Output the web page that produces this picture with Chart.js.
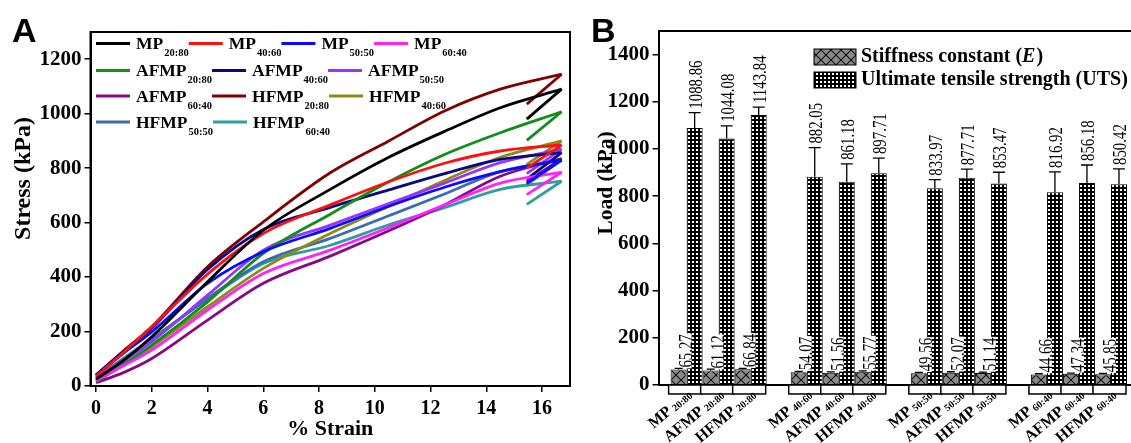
<!DOCTYPE html>
<html><head><meta charset="utf-8">
<script src="https://cdn.jsdelivr.net/npm/chart.js@4.4.1/dist/chart.umd.min.js"></script>
<style>
html,body{margin:0;padding:0;background:#fff;overflow:hidden;width:1131px;height:443px;}
#ca{position:absolute;left:0;top:0;}
#cb{position:absolute;left:571px;top:0;}
</style></head><body>
<canvas id="ca" width="571" height="443"></canvas>
<canvas id="cb" width="568" height="443"></canvas>
<script>
// ---------- Panel A data (stress-strain curves) ----------
const strainPts = [0, 1, 2, 4, 6, 8.4, 10.5, 12.5, 14.5, 16.7];
const returnStrain = 15.45;
const stress_MP_2080   = [25, 95, 181, 383, 572, 722, 840, 935, 1022, 1090];
const stress_MP_4060   = [35, 125, 218, 411, 560, 665, 750, 818, 863, 885];
const stress_MP_5050   = [40, 122, 199, 377, 493, 579, 660, 730, 787, 830];
const stress_MP_6040   = [20, 75, 132, 279, 413, 499, 582, 665, 745, 785];
const stress_AFMP_2080 = [15, 80, 150, 309, 487, 631, 750, 850, 930, 1007];
const stress_AFMP_4060 = [40, 128, 212, 428, 575, 656, 720, 780, 832, 857];
const stress_AFMP_5050 = [25, 92, 163, 334, 499, 591, 670, 745, 820, 870];
const stress_AFMP_6040 = [12, 50, 101, 242, 377, 477, 570, 665, 770, 835];
const stress_HFMP_2080 = [40, 130, 218, 438, 603, 783, 900, 1010, 1090, 1145];
const stress_HFMP_4060 = [20, 80, 144, 291, 432, 560, 660, 755, 840, 900];
const stress_HFMP_5050 = [30, 100, 169, 322, 456, 542, 625, 705, 787, 830];
const stress_HFMP_6040 = [30, 103, 175, 318, 450, 517, 592, 655, 722, 752];
const returnStress = [980, 800, 745, 703, 902, 760, 780, 750, 1035, 814, 740, 667];
const seriesNames  = ['MP','MP','MP','MP','AFMP','AFMP','AFMP','AFMP','HFMP','HFMP','HFMP','HFMP'];
const seriesRatios = ['20:80','40:60','50:50','60:40','20:80','40:60','50:50','60:40','20:80','40:60','50:50','60:40'];
const xTicksA = [0, 2, 4, 6, 8, 10, 12, 14, 16];
const yTicksA = [0, 200, 400, 600, 800, 1000, 1200];

// ---------- Panel B data (bar chart) ----------
const groups  = ['20:80', '40:60', '50:50', '60:40'];
const samples = ['MP', 'AFMP', 'HFMP'];
const E_MP     = [65.27, 54.07, 49.56, 44.66];
const E_AFMP   = [61.12, 51.56, 52.07, 47.34];
const E_HFMP   = [66.84, 55.77, 51.14, 45.85];
const UTS_MP   = [1088.86, 882.05, 833.97, 816.92];
const UTS_AFMP = [1044.08, 861.18, 877.71, 856.18];
const UTS_HFMP = [1143.84, 897.71, 853.47, 850.42];
const Eerr_MP   = [5, 4, 4, 3];
const Eerr_AFMP = [6, 4, 4, 3];
const Eerr_HFMP = [4, 4, 3, 3];
const UTSerr_MP   = [65, 124, 36, 86];
const UTSerr_AFMP = [54, 76, 37, 76];
const UTSerr_HFMP = [34, 64, 48, 65];
const yTicksB = [0, 200, 400, 600, 800, 1000, 1200, 1400];

// ---------- styles ----------
const SERIF = "'Liberation Serif','Times New Roman',serif";
const SANS = "'Liberation Sans',Arial,sans-serif";
const colorsA = ['#000000','#ff1010','#0a0aff','#ff22ff','#0f8f1a','#0a0a80','#9933ff','#850a85','#800000','#8c8c14','#3a6cb0','#2f9e9e'];
Chart.defaults.font.family = SERIF;
Chart.defaults.font.weight = 'bold';
Chart.defaults.color = '#000';

const stressA = [stress_MP_2080, stress_MP_4060, stress_MP_5050, stress_MP_6040,
  stress_AFMP_2080, stress_AFMP_4060, stress_AFMP_5050, stress_AFMP_6040,
  stress_HFMP_2080, stress_HFMP_4060, stress_HFMP_5050, stress_HFMP_6040];

const dsA = [];
stressA.forEach((vals, i) => {
  dsA.push({
    data: strainPts.map((s, k) => ({x: s, y: vals[k]})),
    borderColor: colorsA[i], borderWidth: 2.8, pointRadius: 0, showLine: true,
    cubicInterpolationMode: 'monotone', fill: false
  });
  const last = strainPts.length - 1;
  dsA.push({
    data: [{x: strainPts[last], y: vals[last]}, {x: returnStrain, y: returnStress[i]}],
    borderColor: colorsA[i], borderWidth: 2.8, pointRadius: 0, showLine: true,
    tension: 0, fill: false
  });
});

const pluginA = {
  id: 'decorA',
  afterDraw(chart) {
    const ctx = chart.ctx, a = chart.chartArea;
    ctx.save();
    ctx.strokeStyle = '#000'; ctx.lineWidth = 2;
    ctx.strokeRect(a.left, a.top, a.right - a.left, a.bottom - a.top);
    ctx.fillStyle = '#000';
    ctx.font = 'bold 34px ' + SANS; ctx.textAlign = 'left'; ctx.textBaseline = 'alphabetic';
    ctx.fillText('A', 12, 42);
    ctx.save();
    ctx.translate(24, 178.5); ctx.rotate(-Math.PI / 2);
    ctx.font = 'bold 24px ' + SERIF; ctx.textAlign = 'center'; ctx.textBaseline = 'middle';
    ctx.fillText('Stress (kPa)', 0, 0);
    ctx.restore();
    const rows = [[0,1,2,3],[4,5,6],[7,8,9],[10,11]];
    const rowY = [43.5, 70.5, 96, 122];
    rows.forEach((r, ri) => {
      let x = 96; const y = rowY[ri];
      r.forEach(i => {
        ctx.strokeStyle = colorsA[i]; ctx.lineWidth = 2.8;
        ctx.beginPath(); ctx.moveTo(x, y); ctx.lineTo(x + 34, y); ctx.stroke();
        ctx.fillStyle = '#000'; ctx.textBaseline = 'middle'; ctx.textAlign = 'left';
        ctx.font = 'bold 17.5px ' + SERIF;
        ctx.fillText(seriesNames[i], x + 40, y + 1);
        const w = ctx.measureText(seriesNames[i]).width;
        ctx.font = 'bold 10.5px ' + SERIF;
        ctx.fillText(seriesRatios[i], x + 41 + w, y + 10);
        const sw = ctx.measureText(seriesRatios[i]).width;
        x = x + 41 + w + sw;
      });
    });
    ctx.restore();
  }
};

new Chart(document.getElementById('ca'), {
  type: 'scatter',
  data: {datasets: dsA},
  options: {
    responsive: false, animation: false, devicePixelRatio: 1,
    layout: {padding: {left: 0, right: 1, top: 32, bottom: 0}},
    plugins: {legend: {display: false}, tooltip: {enabled: false}},
    scales: {
      x: {
        type: 'linear', min: -0.2, max: 17,
        afterBuildTicks: s => { s.ticks = xTicksA.map(v => ({value: v})); },
        afterFit: s => { s.height = 57; },
        grid: {display: true, drawOnChartArea: false, drawTicks: true, tickLength: 6, color: '#000', lineWidth: 1.5},
        border: {display: true, color: '#000', width: 2},
        ticks: {color: '#000', font: {size: 20, weight: 'bold'}, padding: 5, maxRotation: 0, autoSkip: false, callback: v => String(v)},
        title: {display: true, text: '% Strain', color: '#000', font: {size: 22, weight: 'bold'}, padding: {top: 0, bottom: 0}}
      },
      y: {
        type: 'linear', min: 0, max: 1300,
        afterBuildTicks: s => { s.ticks = yTicksA.map(v => ({value: v})); },
        afterFit: s => { s.width = 90.5; },
        grid: {display: true, drawOnChartArea: false, drawTicks: true, tickLength: 6, color: '#000', lineWidth: 1.5},
        border: {display: true, color: '#000', width: 2},
        ticks: {color: '#000', font: {size: 21, weight: 'bold'}, padding: 3, autoSkip: false, callback: v => String(v)}
      }
    }
  },
  plugins: [pluginA]
});

// ---------- Panel B ----------
function makePattern(kind) {
  const c = document.createElement('canvas');
  const g = c.getContext('2d');
  if (kind === 'grid') {
    c.width = 4; c.height = 4;
    g.fillStyle = '#000'; g.fillRect(0, 0, 4, 4);
    g.fillStyle = '#fff'; g.fillRect(1, 1, 2, 2);
  } else {
    c.width = 10; c.height = 10;
    g.fillStyle = '#8a8a8a'; g.fillRect(0, 0, 10, 10);
    g.strokeStyle = '#111'; g.lineWidth = 1.1;
    g.beginPath(); g.moveTo(0, 0); g.lineTo(10, 10); g.moveTo(10, 0); g.lineTo(0, 10); g.stroke();
  }
  return g.createPattern(c, 'repeat');
}
const patE = makePattern('cross');
const patU = makePattern('grid');
const boxDepth = -38;   // white label boxes below the axis, in kPa units

const Evals = [E_MP, E_AFMP, E_HFMP];
const Uvals = [UTS_MP, UTS_AFMP, UTS_HFMP];
const Eerrs = [Eerr_MP, Eerr_AFMP, Eerr_HFMP];
const Uerrs = [UTSerr_MP, UTSerr_AFMP, UTSerr_HFMP];

const dsB = [];
samples.forEach((s, j) => {
  dsB.push({label: s + ' E', data: Evals[j], backgroundColor: patE, borderColor: '#000', borderWidth: 1,
    barPercentage: 1, categoryPercentage: 0.8, kind: 'E', err: Eerrs[j]});
  dsB.push({label: s + ' UTS', data: Uvals[j], backgroundColor: patU, borderColor: '#000', borderWidth: 1,
    barPercentage: 1, categoryPercentage: 0.8, kind: 'U', err: Uerrs[j]});
});

const pluginB = {
  id: 'decorB',
  afterDatasetsDraw(chart) {
    const ctx = chart.ctx, y = chart.scales.y;
    groups.forEach((g, i) => {
      samples.forEach((s, j) => {
        const eb = chart.getDatasetMeta(2 * j).data[i];
        const ub = chart.getDatasetMeta(2 * j + 1).data[i];
        const l = eb.x - eb.width / 2 - 2, r = ub.x + ub.width / 2 - 1;
        const t = y.getPixelForValue(0), b = y.getPixelForValue(boxDepth);
        ctx.save();
        ctx.fillStyle = '#fff'; ctx.strokeStyle = '#000'; ctx.lineWidth = 1.5;
        ctx.fillRect(l, t, r - l, b - t); ctx.strokeRect(l, t, r - l, b - t);
        ctx.restore();
      });
    });
    chart.data.datasets.forEach((ds, di) => {
      const meta = chart.getDatasetMeta(di);
      const isE = ds.kind === 'E';
      meta.data.forEach((bar, i) => {
        const v = ds.data[i], e = ds.err[i];
        const yTop = y.getPixelForValue(v + e);
        const txt = v.toFixed(2);
        ctx.save();
        const lx = bar.x + (isE ? 7 : 1);
        const ly = isE ? bar.y - 2 : yTop - 4;
        ctx.translate(lx, ly); ctx.rotate(-Math.PI / 2); ctx.scale(0.78, 1);
        ctx.font = 'normal 19px ' + SERIF;
        ctx.textAlign = 'left'; ctx.textBaseline = 'middle';
        const w = ctx.measureText(txt).width;
        if (isE) { ctx.fillStyle = '#fff'; ctx.fillRect(-1, -6, w + 2, 12); }
        ctx.fillStyle = '#000'; ctx.fillText(txt, 0, 1);
        ctx.restore();
        ctx.save();
        ctx.strokeStyle = '#000'; ctx.lineWidth = 1.3;
        const cw = isE ? 4 : 6;
        ctx.beginPath();
        ctx.moveTo(bar.x, bar.y); ctx.lineTo(bar.x, yTop);
        ctx.moveTo(bar.x - cw, yTop); ctx.lineTo(bar.x + cw, yTop);
        ctx.stroke();
        ctx.restore();
      });
    });
    const ang = 40 * Math.PI / 180;
    groups.forEach((g, i) => {
      samples.forEach((s, j) => {
        const eb = chart.getDatasetMeta(2 * j).data[i];
        const cx = eb.x + eb.width / 2;
        ctx.save();
        ctx.translate(cx + 6, 396); ctx.rotate(-ang);
        ctx.textAlign = 'right'; ctx.textBaseline = 'alphabetic'; ctx.fillStyle = '#000';
        ctx.font = 'bold 10px ' + SERIF;
        ctx.fillText(g, 0, 1);
        const sw = ctx.measureText(g).width;
        ctx.font = 'bold 16px ' + SERIF;
        ctx.fillText(s, -sw - 3, 0);
        ctx.restore();
      });
    });
  },
  afterDraw(chart) {
    const ctx = chart.ctx, a = chart.chartArea;
    ctx.save();
    ctx.strokeStyle = '#000'; ctx.lineWidth = 2;
    ctx.beginPath();
    ctx.moveTo(a.left, a.top); ctx.lineTo(a.right, a.top); ctx.lineTo(a.right, a.bottom);
    ctx.stroke();
    ctx.fillStyle = '#000';
    ctx.font = 'bold 34px ' + SANS; ctx.textAlign = 'left'; ctx.textBaseline = 'alphabetic';
    ctx.fillText('B', 20, 42);
    ctx.save();
    ctx.translate(35, 183); ctx.rotate(-Math.PI / 2);
    ctx.font = 'bold 21.5px ' + SERIF; ctx.textAlign = 'center'; ctx.textBaseline = 'middle';
    ctx.fillText('Load (kPa)', 0, 0);
    ctx.restore();
    const sx = 243, sw = 42;
    ctx.lineWidth = 1;
    ctx.fillStyle = patE; ctx.fillRect(sx, 49, sw, 16); ctx.strokeRect(sx, 49, sw, 16);
    ctx.fillStyle = patU; ctx.fillRect(sx, 72, sw, 16); ctx.strokeRect(sx, 72, sw, 16);
    ctx.fillStyle = '#000'; ctx.textAlign = 'left'; ctx.textBaseline = 'middle';
    ctx.font = 'bold 20px ' + SERIF;
    let tx = 290;
    ctx.fillText('Stiffness constant (', tx, 57);
    tx += ctx.measureText('Stiffness constant (').width;
    ctx.font = 'italic bold 20px ' + SERIF;
    ctx.fillText('E', tx, 57);
    tx += ctx.measureText('E').width + 1;
    ctx.font = 'bold 20px ' + SERIF;
    ctx.fillText(')', tx, 57);
    ctx.fillText('Ultimate tensile strength (UTS)', 290, 80);
    ctx.restore();
  }
};

new Chart(document.getElementById('cb'), {
  type: 'bar',
  data: {labels: groups, datasets: dsB},
  options: {
    responsive: false, animation: false, devicePixelRatio: 1,
    layout: {padding: {left: 0, right: 0, top: 31, bottom: 0}},
    plugins: {legend: {display: false}, tooltip: {enabled: false}},
    scales: {
      x: {
        type: 'category', offset: true,
        afterFit: s => { s.height = 58; },
        grid: {display: false},
        border: {display: true, color: '#000', width: 2},
        ticks: {display: false}
      },
      y: {
        type: 'linear', min: 0, max: 1500,
        afterBuildTicks: s => { s.ticks = yTicksB.map(v => ({value: v})); },
        afterFit: s => { s.width = 87.6; },
        grid: {display: true, drawOnChartArea: false, drawTicks: true, tickLength: 6, color: '#000', lineWidth: 1.5},
        border: {display: true, color: '#000', width: 2},
        ticks: {color: '#000', font: {size: 21, weight: 'bold'}, padding: 3, autoSkip: false, callback: v => String(v)}
      }
    }
  },
  plugins: [pluginB]
});
</script>
</body></html>
